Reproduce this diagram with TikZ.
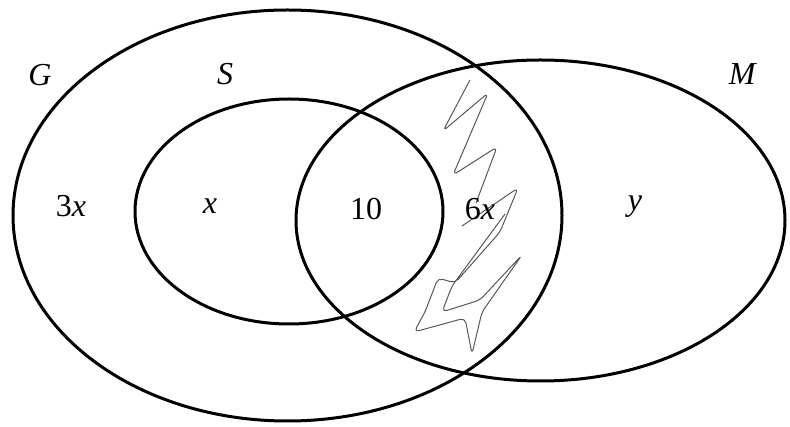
\documentclass[tikz,border=0pt]{standalone}
\usepackage{fontspec}
\setmainfont{Liberation Serif}
\begin{document}
\begin{tikzpicture}[x=1pt,y=-1pt,
  setline/.style={line width=3pt,black},
  lbl/.style={font=\fontsize{32}{34}\selectfont, inner sep=0pt},
  scrib/.style={gray!70!black,line width=1pt,line join=round,rounded corners=5pt}]
\useasboundingbox (0,0) rectangle (790,427);
\fill[white] (0,0) rectangle (790,427);
% sets
\draw[setline] (287.5,215.5) ellipse [x radius=274.5, y radius=205.5];
\draw[setline] (289,211.5) ellipse [x radius=154, y radius=112.5];
\draw[setline] (540.5,220.5) ellipse [x radius=244.5, y radius=160.5];
% pencil scribble
\draw[scrib] (470,80) -- (443,131) -- (488,93) -- (453,175) -- (497,147) -- (476,203);
\draw[scrib] (462,226) -- (518,188) -- (500,232) -- (455,283) -- (438,278) -- (425,312) -- (414,332) -- (465,318) -- (472,354) -- (482,312) -- (522,255) -- (480,300) -- (442,312) -- (452,286) -- (505,214);
% labels
\node[lbl] (G) at (40,75) {\textit{G}};
\node[lbl] (S) at (225,74) {\textit{S}};
\node[lbl] (M) at (743,74) {\textit{M}};
\node[lbl] (a) at (71,206) {3\textit{x}};
\node[lbl] (b) at (210,206) {\textit{x}};
\node[lbl] (c) at (366,209) {10};
\node[lbl] (d) at (480,209) {6\textit{x}};
\node[lbl] (e) at (635,207) {\textit{y}};
\end{tikzpicture}
\end{document}
